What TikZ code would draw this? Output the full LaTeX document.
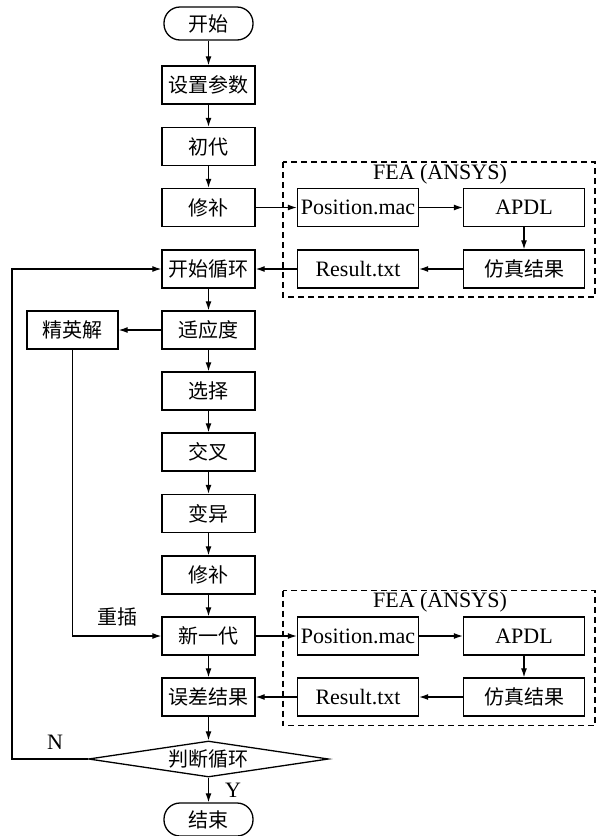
\documentclass[tikz,border=0pt]{standalone}
\usepackage{fontspec}
\setmainfont{Liberation Serif}
\newfontfamily\cjk{Noto Sans CJK SC}
\usetikzlibrary{arrows.meta,shapes.geometric}
\begin{document}
\begin{tikzpicture}[x=1pt,y=-1pt,
  line width=1.2pt,
  cjkfont/.style={font=\cjk\fontsize{20}{24}\selectfont},
  latfont/.style={font=\fontsize{22}{24}\selectfont},
  procbox/.style={draw, line width=1.3pt, minimum width=93pt, minimum height=38pt, inner sep=0pt, cjkfont},
  filebox/.style={draw, line width=1.3pt, minimum width=121pt, minimum height=38pt, inner sep=0pt, latfont},
  termbox/.style={draw, line width=1.3pt, rounded corners=16pt, minimum width=89pt, minimum height=33pt, inner sep=0pt, cjkfont},
  decbox/.style={draw, line width=1.3pt, diamond, aspect=6.67, minimum width=240pt, minimum height=36pt, inner sep=0pt, cjkfont},
  fea/.style={draw, line width=1.2pt, dash pattern=on 6pt off 4pt},
  arr/.style={-{Latex[length=9pt,width=6pt]}, line width=1.2pt},
  conn/.style={line width=1.2pt}
]
\useasboundingbox (0,0) rectangle (604,836);

% main flow column
\node[termbox] (start) at (208.5,23.5) {开始};
\node[procbox] (p1)  at (208.5,85)    {设置参数};
\node[procbox] (p2)  at (208.5,146.5) {初代};
\node[procbox] (p3)  at (208.5,207.5) {修补};
\node[procbox] (p4)  at (208.5,269)   {开始循环};
\node[procbox] (p5)  at (208.5,330)   {适应度};
\node[procbox] (p6)  at (208.5,391)   {选择};
\node[procbox] (p7)  at (208.5,452)   {交叉};
\node[procbox] (p8)  at (208.5,513.5) {变异};
\node[procbox] (p9)  at (208.5,575)   {修补};
\node[procbox] (p10) at (208.5,636)   {新一代};
\node[procbox] (p11) at (208.5,697)   {误差结果};
\node[decbox]  (dec) at (208.5,759)   {判断循环};
\node[termbox] (stop) at (208.5,819.5) {结束};

\node[procbox, minimum width=91pt] (elite) at (72.5,330) {精英解};

% first FEA block
\draw[fea] (283,162) rectangle (595,297);
\node[latfont] (fealabA) at (440,174) {FEA (ANSYS)};
\node[filebox] (posA) at (358,207.5) {Position.mac};
\node[filebox] (apdlA) at (524,207.5) {APDL};
\node[procbox, minimum width=121pt] (simA) at (524,269) {仿真结果};
\node[filebox] (resA) at (358,269) {Result.txt};

% second FEA block
\draw[fea] (283,590.5) rectangle (595,725.5);
\node[latfont] (fealabB) at (440,602.5) {FEA (ANSYS)};
\node[filebox] (posB) at (358,636) {Position.mac};
\node[filebox] (apdlB) at (524,636) {APDL};
\node[procbox, minimum width=121pt] (simB) at (524,697) {仿真结果};
\node[filebox] (resB) at (358,697) {Result.txt};

% vertical chain
\draw[arr] (start) -- (p1);
\draw[arr] (p1) -- (p2);
\draw[arr] (p2) -- (p3);
\draw[arr] (p4) -- (p5);
\draw[arr] (p5) -- (p6);
\draw[arr] (p6) -- (p7);
\draw[arr] (p7) -- (p8);
\draw[arr] (p8) -- (p9);
\draw[arr] (p9) -- (p10);
\draw[arr] (p10) -- (p11);
\draw[arr] (p11) -- (dec.north);
\draw[arr] (dec.south) -- (stop);

% FEA loops
\draw[arr] (p3.east) -- (posA.west);
\draw[arr] (posA) -- (apdlA);
\draw[arr] (apdlA) -- (simA);
\draw[arr] (simA) -- (resA);
\draw[arr] (resA.west) -- (p4.east);

\draw[arr] (p10.east) -- (posB.west);
\draw[arr] (posB) -- (apdlB);
\draw[arr] (apdlB) -- (simB);
\draw[arr] (simB) -- (resB);
\draw[arr] (resB.west) -- (p11.east);

% elite branch
\draw[arr] (p5.west) -- (elite.east);
\draw[arr] (elite.south) |- (p10.west);
\node[cjkfont] (reins) at (117,617) {重插};

% loop back
\coordinate (loopcorner) at (12,759);
\draw[arr] (dec.west) -- (loopcorner) |- (p4.west);
\node[latfont] (nlab) at (55,742) {N};
\node[latfont] (ylab) at (233,790) {Y};
\end{tikzpicture}
\end{document}
